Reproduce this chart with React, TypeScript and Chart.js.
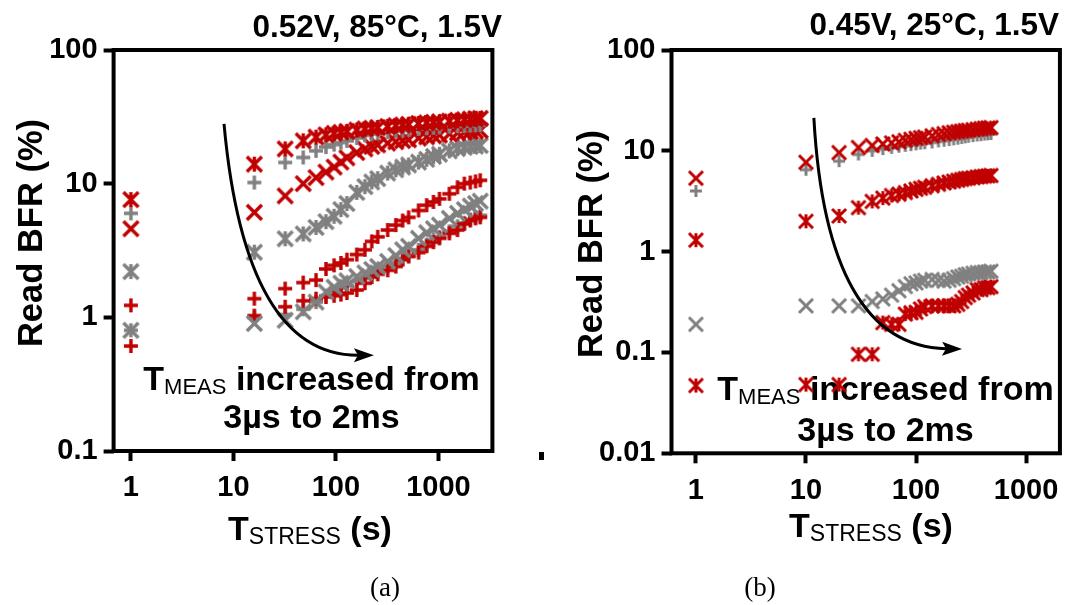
import React, { useEffect, useRef } from "react";
import { Chart, registerables } from "chart.js";

Chart.register(...registerables);

const PAGE_W = 1069;
const PAGE_H = 605;
const RED = "#C00000";
const GRAY = "#808080";
const SANS = "'Liberation Sans', Arial, sans-serif";
const SERIF = "'Liberation Serif', 'Times New Roman', serif";

// ---------- Panel (a): 0.52V, 85°C, 1.5V ----------
const xTicksA = [1, 10, 100, 1000];
const yTicksA = [0.1, 1, 10, 100];
const tStressA = [1, 16, 32, 48, 64, 80, 96, 112, 128, 160, 192, 224, 256, 320, 384, 448, 512, 640, 768, 896, 1024, 1280, 1536, 1792, 2048, 2304, 2560];
const aRedStar = [7.6, 14.0, 18.2, 20.9, 22.3, 23.2, 23.8, 24.2, 24.6, 25.2, 25.7, 26.0, 26.3, 26.8, 27.2, 27.5, 27.8, 28.2, 28.5, 28.8, 29.0, 29.4, 29.8, 30.1, 30.4, 30.6, 30.8];
const aGrayPlusTop = [6.0, 10.2, 14.4, 15.7, 17.6, 18.8, 19.6, 20.3, 20.9, 22.0, 23.0, 23.5, 23.8, 24.3, 24.7, 25.0, 25.3, 25.7, 26.0, 26.2, 26.4, 26.7, 26.9, 27.0, 27.2, 27.3, 27.4];
const aRedX = [4.6, 6.1, 8.1, 10.0, 11.1, 12.2, 13.3, 14.5, 15.6, 17.1, 18.2, 19.0, 19.5, 20.1, 20.6, 21.0, 21.3, 21.9, 22.4, 22.8, 23.1, 23.6, 24.0, 24.3, 24.6, 24.8, 25.0];
const aGrayStar = [2.2, 3.07, 3.87, 4.21, 4.7, 5.2, 5.7, 6.4, 7.1, 8.6, 9.5, 10.3, 10.9, 12.0, 12.7, 13.3, 13.8, 14.5, 15.2, 16.0, 16.6, 17.6, 18.3, 18.7, 19.0, 19.1, 19.3];
const aRedPlusUp = [1.23, 1.38, 1.64, 1.82, 1.9, 2.3, 2.45, 2.55, 2.7, 2.95, 3.2, 3.7, 4.0, 4.5, 4.9, 5.3, 5.6, 6.3, 6.9, 7.3, 7.7, 8.4, 9.4, 10.0, 10.2, 10.4, 10.6];
const aGrayX = [0.8, 0.9, 0.95, 1.1, 1.3, 1.55, 1.68, 1.8, 1.88, 2.02, 2.15, 2.28, 2.4, 2.62, 2.9, 3.2, 3.4, 3.9, 4.3, 4.6, 4.9, 5.5, 6.0, 6.4, 6.8, 7.1, 7.4];
const aRedPlusLow = [0.61, 1.03, 1.2, 1.33, 1.38, 1.42, 1.45, 1.48, 1.52, 1.6, 1.8, 2.0, 2.1, 2.25, 2.4, 2.7, 2.85, 3.05, 3.4, 3.65, 3.9, 4.25, 4.5, 5.0, 5.3, 5.5, 5.6];
const aGrayPlusLow = [0.8, 1.0, 1.05, 1.15, 1.3, 1.45, 1.55, 1.65, 1.72, 1.85, 1.95, 2.1, 2.2, 2.4, 2.55, 2.75, 2.9, 3.2, 3.5, 3.8, 4.0, 4.4, 4.8, 5.1, 5.4, 5.6, 5.8];
const arrowA = [[8.1, 28], [13, 0.52], [235, 0.52]];

// ---------- Panel (b): 0.45V, 25°C, 1.5V ----------
const xTicksB = [1, 10, 100, 1000];
const yTicksB = [0.01, 0.1, 1, 10, 100];
const tStressB = [1, 10, 20, 30, 40, 50, 60, 70, 80, 90, 100, 110, 120, 140, 160, 180, 200, 220, 240, 260, 280, 300, 330, 360, 390, 420, 450, 480];
const bRedX = [5.35, 7.7, 9.6, 10.8, 11.3, 11.7, 12.0, 12.3, 12.7, 13.0, 13.3, 13.5, 13.7, 14.1, 14.5, 14.8, 15.1, 15.3, 15.5, 15.7, 15.9, 16.0, 16.2, 16.4, 16.6, 16.8, 16.9, 17.0];
const bGrayPlus = [4.0, 6.5, 7.9, 9.2, 10.0, 10.4, 10.7, 11.0, 11.2, 11.4, 11.6, 11.8, 11.9, 12.1, 12.4, 12.6, 12.8, 13.0, 13.2, 13.4, 13.6, 13.8, 14.0, 14.2, 14.3, 14.5, 14.6, 14.7];
const bRedStarUp = [1.3, 2.0, 2.26, 2.73, 3.15, 3.4, 3.6, 3.72, 3.85, 4.0, 4.15, 4.25, 4.35, 4.5, 4.65, 4.8, 4.9, 5.0, 5.1, 5.2, 5.3, 5.35, 5.4, 5.5, 5.55, 5.6, 5.65, 5.7];
const bGrayX = [0.19, 0.29, 0.29, 0.29, 0.32, 0.34, 0.37, 0.41, 0.45, 0.48, 0.49, 0.51, 0.52, 0.53, 0.52, 0.51, 0.52, 0.54, 0.56, 0.57, 0.59, 0.6, 0.61, 0.62, 0.62, 0.63, 0.63, 0.64];
const bRedStarLow = [0.047, 0.048, 0.048, 0.096, 0.096, 0.198, 0.19, 0.19, 0.24, 0.248, 0.25, 0.27, 0.285, 0.29, 0.29, 0.29, 0.29, 0.29, 0.3, 0.32, 0.35, 0.37, 0.39, 0.42, 0.42, 0.44, 0.44, 0.45];
const arrowB = [[11.8, 21.2], [15.4, 0.116], [262, 0.108]];

type Kind = "x" | "plus" | "star";

function makeMarker(kind: Kind, color: string, size: number, lw: number): HTMLCanvasElement {
  const pad = Math.ceil(lw) + 1;
  const s = Math.ceil(size + pad * 2);
  const c = document.createElement("canvas");
  c.width = s;
  c.height = s;
  const ctx = c.getContext("2d")!;
  ctx.strokeStyle = color;
  ctx.lineWidth = lw;
  const m = s / 2;
  const h = size / 2;
  ctx.beginPath();
  if (kind !== "plus") {
    ctx.moveTo(m - h, m - h);
    ctx.lineTo(m + h, m + h);
    ctx.moveTo(m + h, m - h);
    ctx.lineTo(m - h, m + h);
  }
  if (kind === "plus") {
    ctx.moveTo(m - h, m);
    ctx.lineTo(m + h, m);
  }
  if (kind !== "x") {
    ctx.moveTo(m, m - h);
    ctx.lineTo(m, m + h);
  }
  ctx.stroke();
  return c;
}

type Run = { text: string; font: string; dy?: number; w?: number };

function drawRuns(ctx: CanvasRenderingContext2D, runs: Run[], cx: number, base: number) {
  let total = 0;
  runs.forEach((r) => {
    ctx.font = r.font;
    r.w = ctx.measureText(r.text).width;
    total += r.w;
  });
  let x = cx - total / 2;
  ctx.textAlign = "left";
  ctx.textBaseline = "alphabetic";
  runs.forEach((r) => {
    ctx.font = r.font;
    ctx.fillText(r.text, x, base + (r.dy || 0));
    x += r.w || 0;
  });
}

interface Panel {
  id: string;
  x: number[];
  series: { y: number[]; color: string; kind: Kind }[];
  xMin: number;
  xMax: number;
  yMin: number;
  yMax: number;
  xTicks: number[];
  yTicks: number[];
  area: { left: number; top: number; right: number; bottom: number };
  sizes: { x: number; plus: number; star: number; lw: number };
  title: string;
  titleRight: number;
  titleBase: number;
  yTitleX: number;
  yTitleY: number;
  xTitleCx: number;
  xTitleBase: number;
  noteCx: number;
  noteBase1: number;
  noteBase2: number;
  caption: string;
  captionCx: number;
  captionBase: number;
  arrow: number[][];
  dot?: boolean;
}

const panelA: Panel = {
  id: "a",
  x: tStressA,
  series: [
    { y: aRedStar, color: RED, kind: "star" },
    { y: aGrayPlusTop, color: GRAY, kind: "plus" },
    { y: aRedX, color: RED, kind: "x" },
    { y: aGrayStar, color: GRAY, kind: "star" },
    { y: aRedPlusUp, color: RED, kind: "plus" },
    { y: aGrayX, color: GRAY, kind: "x" },
    { y: aRedPlusLow, color: RED, kind: "plus" },
    { y: aGrayPlusLow, color: GRAY, kind: "plus" },
  ],
  xMin: 0.678,
  xMax: 3365,
  yMin: 0.1,
  yMax: 100,
  xTicks: xTicksA,
  yTicks: yTicksA,
  area: { left: 113.6, top: 50, right: 492.4, bottom: 451 },
  sizes: { x: 15, plus: 14, star: 15, lw: 3.4 },
  title: "0.52V, 85°C, 1.5V",
  titleRight: 502,
  titleBase: 37,
  yTitleX: 42,
  yTitleY: 233,
  xTitleCx: 310,
  xTitleBase: 540,
  noteCx: 311.5,
  noteBase1: 390,
  noteBase2: 428,
  caption: "(a)",
  captionCx: 385,
  captionBase: 596,
  arrow: arrowA,
  dot: true,
};

const panelB: Panel = {
  id: "b",
  x: tStressB,
  series: [
    { y: bRedX, color: RED, kind: "x" },
    { y: bGrayPlus, color: GRAY, kind: "plus" },
    { y: bRedStarUp, color: RED, kind: "star" },
    { y: bGrayX, color: GRAY, kind: "x" },
    { y: bRedStarLow, color: RED, kind: "star" },
  ],
  xMin: 0.646,
  xMax: 2032,
  yMin: 0.01,
  yMax: 100,
  xTicks: xTicksB,
  yTicks: yTicksB,
  area: { left: 671.5, top: 50, right: 1061, bottom: 453.3 },
  sizes: { x: 14, plus: 12, star: 14, lw: 3 },
  title: "0.45V, 25°C, 1.5V",
  titleRight: 1059,
  titleBase: 35,
  yTitleX: 601.7,
  yTitleY: 244,
  xTitleCx: 871,
  xTitleBase: 537,
  noteCx: 885.5,
  noteBase1: 400,
  noteBase2: 441,
  caption: "(b)",
  captionCx: 760,
  captionBase: 596,
  arrow: arrowB,
};

function decorPlugin(p: Panel) {
  return {
    id: "decor_" + p.id,
    beforeDatasetsDraw(chart: any) {
      const ctx: CanvasRenderingContext2D = chart.ctx;
      ctx.save();
      ctx.fillStyle = "#000";
      drawRuns(
        ctx,
        [
          { text: "T", font: `bold 34px ${SANS}` },
          { text: "MEAS", font: `22px ${SANS}`, dy: 4 },
          { text: " increased from", font: `bold 34px ${SANS}` },
        ],
        p.noteCx,
        p.noteBase1
      );
      drawRuns(ctx, [{ text: "3µs to 2ms", font: `bold 34px ${SANS}` }], p.noteCx, p.noteBase2);
      ctx.restore();
    },
    afterDatasetsDraw(chart: any) {
      const ctx: CanvasRenderingContext2D = chart.ctx;
      const xs = chart.scales.x;
      const ys = chart.scales.y;
      const a = chart.chartArea;
      ctx.save();
      const pts = p.arrow.map((d) => [xs.getPixelForValue(d[0]), ys.getPixelForValue(d[1])]);
      const [p0, p1, p2] = pts;
      const dx = p2[0] - p1[0];
      const dy = p2[1] - p1[1];
      const len = Math.hypot(dx, dy);
      const ux = dx / len;
      const uy = dy / len;
      const headL = 20;
      const headW = 7;
      const endX = p2[0] - ux * headL * 0.8;
      const endY = p2[1] - uy * headL * 0.8;
      ctx.strokeStyle = "#000";
      ctx.lineWidth = 3;
      ctx.beginPath();
      ctx.moveTo(p0[0], p0[1]);
      ctx.quadraticCurveTo(p1[0], p1[1], endX, endY);
      ctx.stroke();
      ctx.fillStyle = "#000";
      ctx.beginPath();
      ctx.moveTo(p2[0], p2[1]);
      ctx.lineTo(p2[0] - ux * headL - uy * headW, p2[1] - uy * headL + ux * headW);
      ctx.lineTo(p2[0] - ux * headL * 0.8, p2[1] - uy * headL * 0.8);
      ctx.lineTo(p2[0] - ux * headL + uy * headW, p2[1] - uy * headL - ux * headW);
      ctx.closePath();
      ctx.fill();
      ctx.lineWidth = 4;
      ctx.strokeStyle = "#000";
      ctx.strokeRect(a.left, a.top, a.right - a.left, a.bottom - a.top);
      ctx.restore();
    },
    afterDraw(chart: any) {
      const ctx: CanvasRenderingContext2D = chart.ctx;
      ctx.save();
      ctx.fillStyle = "#000";
      ctx.font = `bold 31.5px ${SANS}`;
      ctx.textAlign = "right";
      ctx.textBaseline = "alphabetic";
      ctx.fillText(p.title, p.titleRight, p.titleBase);
      ctx.save();
      ctx.translate(p.yTitleX, p.yTitleY);
      ctx.rotate(-Math.PI / 2);
      ctx.font = `bold 34.5px ${SANS}`;
      ctx.textAlign = "center";
      ctx.fillText("Read BFR (%)", 0, 0);
      ctx.restore();
      drawRuns(
        ctx,
        [
          { text: "T", font: `bold 34px ${SANS}` },
          { text: "STRESS", font: `23px ${SANS}`, dy: 4 },
          { text: " (s)", font: `bold 34px ${SANS}` },
        ],
        p.xTitleCx,
        p.xTitleBase
      );
      ctx.font = `27px ${SERIF}`;
      ctx.textAlign = "center";
      ctx.fillText(p.caption, p.captionCx, p.captionBase);
      if (p.dot) {
        ctx.fillRect(539, 452, 5, 8);
      }
      ctx.restore();
    },
  };
}

function buildChart(canvas: HTMLCanvasElement, p: Panel) {
  const axisW = 100;
  const axisH = 72;
  const datasets = p.series.map((s, i) => {
    const size = s.kind === "x" ? p.sizes.x : s.kind === "plus" ? p.sizes.plus : p.sizes.star;
    return {
      label: `${p.id}${i}`,
      data: p.x.map((x, j) => ({ x, y: s.y[j] })).filter((d) => d.y != null),
      pointStyle: makeMarker(s.kind, s.color, size, p.sizes.lw),
      pointRadius: 5,
      showLine: false,
    };
  });
  const tickFont = { family: SANS, size: 29, weight: "bold" as const };
  return new Chart(canvas, {
    type: "scatter",
    data: { datasets: datasets as any },
    options: {
      animation: false,
      responsive: false,
      maintainAspectRatio: false,
      events: [],
      layout: {
        padding: {
          left: p.area.left - axisW,
          right: PAGE_W - p.area.right,
          top: p.area.top,
          bottom: PAGE_H - p.area.bottom - axisH,
        },
      },
      plugins: {
        legend: { display: false },
        tooltip: { enabled: false },
        title: { display: false },
      },
      scales: {
        x: {
          type: "logarithmic",
          min: p.xMin,
          max: p.xMax,
          afterBuildTicks: (s: any) => {
            s.ticks = p.xTicks.map((v) => ({ value: v }));
          },
          afterFit: (s: any) => {
            s.height = axisH;
          },
          ticks: {
            font: tickFont,
            color: "#000",
            padding: 10,
            autoSkip: false,
            maxRotation: 0,
            callback: (v: any) => String(v),
          },
          grid: { display: true, drawOnChartArea: false, drawTicks: true, tickLength: 10, tickWidth: 4, tickColor: "#000" },
          border: { display: false },
        },
        y: {
          type: "logarithmic",
          min: p.yMin,
          max: p.yMax,
          afterBuildTicks: (s: any) => {
            s.ticks = p.yTicks.map((v) => ({ value: v }));
          },
          afterFit: (s: any) => {
            s.width = axisW;
          },
          ticks: {
            font: tickFont,
            color: "#000",
            padding: 6,
            autoSkip: false,
            callback: (v: any) => String(v),
          },
          grid: { display: true, drawOnChartArea: false, drawTicks: true, tickLength: 10, tickWidth: 4, tickColor: "#000" },
          border: { display: false },
        },
      },
    } as any,
    plugins: [decorPlugin(p)],
  });
}

export default function App() {
  const refA = useRef<HTMLCanvasElement>(null);
  const refB = useRef<HTMLCanvasElement>(null);
  useEffect(() => {
    const ca = buildChart(refA.current!, panelA);
    const cb = buildChart(refB.current!, panelB);
    return () => {
      ca.destroy();
      cb.destroy();
    };
  }, []);
  const canvasStyle: React.CSSProperties = { position: "absolute", left: 0, top: 0, width: PAGE_W, height: PAGE_H };
  return (
    <div style={{ position: "fixed", left: 0, top: 0, width: PAGE_W, height: PAGE_H, background: "#fff" }}>
      <canvas ref={refA} width={PAGE_W} height={PAGE_H} style={canvasStyle} />
      <canvas ref={refB} width={PAGE_W} height={PAGE_H} style={canvasStyle} />
    </div>
  );
}
